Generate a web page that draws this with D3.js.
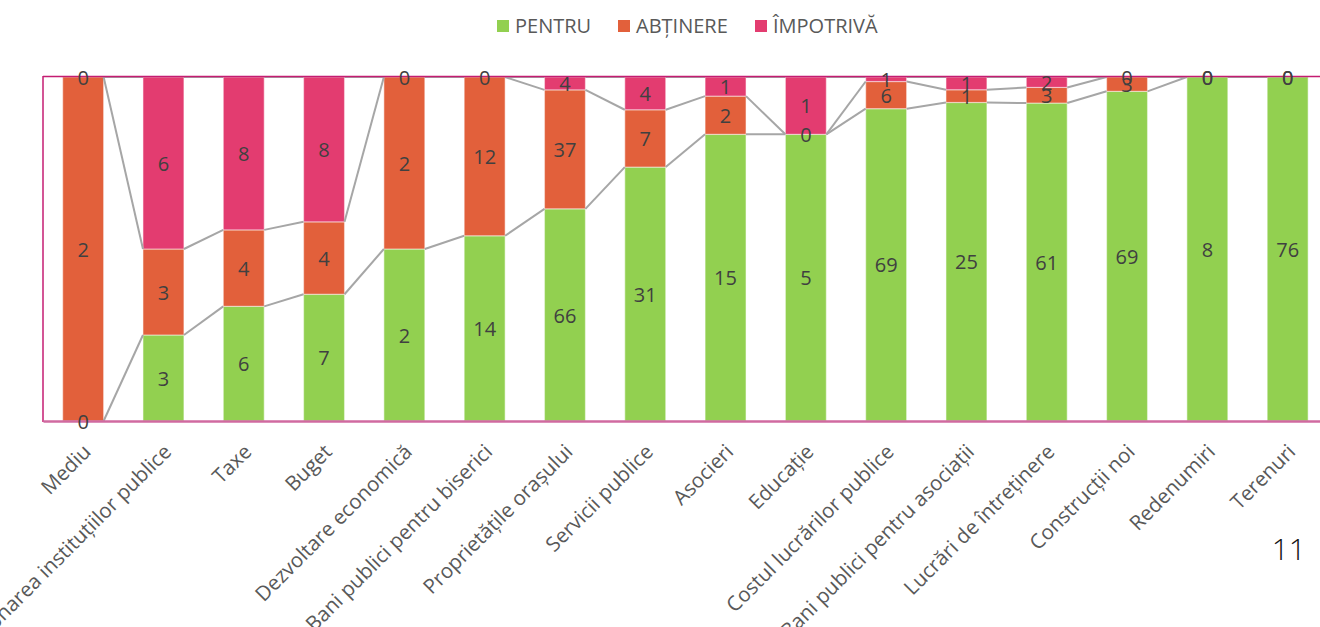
<!DOCTYPE html>
<html>
<head>
<meta charset="utf-8">
<script src="https://cdn.jsdelivr.net/npm/d3@7"></script>
<style>
  body { margin: 0; background: #fff; }
  text { font-family: "Open Sans", "Noto Sans", sans-serif; }
</style>
</head>
<body>
<div id="chart"></div>
<script>
// votes per topic, 100% stacked
const categories = ["Mediu", "Funcționarea instituțiilor publice", "Taxe", "Buget",
  "Dezvoltare economică", "Bani publici pentru biserici", "Proprietățile orașului",
  "Servicii publice", "Asocieri", "Educație", "Costul lucrărilor publice",
  "Bani publici pentru asociații", "Lucrări de întreținere", "Construcții noi",
  "Redenumiri", "Terenuri"];
const pentru    = [0, 3, 6, 7, 2, 14, 66, 31, 15, 5, 69, 25, 61, 69, 8, 76];
const abtinere  = [2, 3, 4, 4, 2, 12, 37, 7, 2, 0, 6, 1, 3, 3, 0, 0];
const impotriva = [0, 6, 8, 8, 0, 0, 4, 4, 1, 1, 1, 1, 2, 0, 0, 0];
const seriesNames = ["PENTRU", "ABȚINERE", "ÎMPOTRIVĂ"];
const colors = ["#92d050", "#e2603b", "#e33c70"];

const W = 1320, H = 627;
const plotLeft = 43, plotTop = 77, plotBottom = 421;

const svg = d3.select("#chart").append("svg")
  .attr("width", W).attr("height", H);

const data = categories.map((c, i) => ({cat: c, v: [pentru[i], abtinere[i], impotriva[i]]}));
data.forEach(d => {
  const tot = d3.sum(d.v);
  let acc = 0;
  d.seg = d.v.map(v => { const s = {y0: acc / tot, y1: (acc + v) / tot, v: v}; acc += v; return s; });
});

const x = d3.scaleBand().domain(categories)
  .range([plotLeft, plotLeft + 16 * 80.3])
  .paddingInner(0.49).paddingOuter(0.245);
const y = d3.scaleLinear().domain([0, 1]).range([plotBottom, plotTop]);
const bw = x.bandwidth();

// bars
data.forEach(d => {
  svg.selectAll(null).data(d.seg).enter().append("rect")
    .attr("x", x(d.cat))
    .attr("y", s => y(s.y1))
    .attr("width", bw)
    .attr("height", s => y(s.y0) - y(s.y1))
    .attr("fill", (s, k) => colors[k])
    .attr("stroke", "#ffffff")
    .attr("stroke-opacity", 0.45)
    .attr("stroke-width", 1.2);
});

// series lines between neighbouring bars
const levels = [0, 1, 2];
for (let i = 0; i < data.length - 1; i++) {
  levels.forEach(k => {
    svg.append("line")
      .attr("x1", x(data[i].cat) + bw).attr("y1", y(data[i].seg[k].y1))
      .attr("x2", x(data[i + 1].cat)).attr("y2", y(data[i + 1].seg[k].y1))
      .attr("stroke", "#a6a6a6").attr("stroke-width", 2);
  });
}

// plot border
svg.append("line").attr("x1", plotLeft).attr("x2", W).attr("y1", plotTop - 0.5).attr("y2", plotTop - 0.5)
  .attr("stroke", "#c41c72").attr("stroke-width", 1.5);
svg.append("line").attr("x1", plotLeft).attr("x2", plotLeft).attr("y1", plotTop - 1).attr("y2", plotBottom + 1)
  .attr("stroke", "#c41c72").attr("stroke-width", 1.5);

// x axis
const xAxis = svg.append("g")
  .attr("transform", `translate(0,${plotBottom})`)
  .call(d3.axisBottom(x).tickSize(0).tickPadding(0));
xAxis.select(".domain").attr("stroke", "#d06aa0").attr("stroke-width", 2.5);
xAxis.selectAll(".tick text")
  .attr("fill", "#595959")
  .style("font-size", "20.5px")
  .attr("text-anchor", "end")
  .attr("dy", "0.35em")
  .attr("transform", "translate(4,27) rotate(-45)");

// data labels
data.forEach(d => {
  svg.selectAll(null).data(d.seg).enter().append("text")
    .attr("x", x(d.cat) + bw / 2)
    .attr("y", s => y((s.y0 + s.y1) / 2))
    .attr("dy", "0.38em")
    .attr("text-anchor", "middle")
    .attr("fill", "#404040")
    .style("font-size", "20px")
    .text(s => s.v);
});

// legend
const legendX = [497, 618, 755];
seriesNames.forEach((n, k) => {
  svg.append("rect").attr("x", legendX[k]).attr("y", 20).attr("width", 12).attr("height", 12)
    .attr("fill", colors[k]);
  svg.append("text").attr("x", legendX[k] + 18).attr("y", 26).attr("dy", "0.35em")
    .attr("fill", "#595959").style("font-size", "20px").text(n);
});

// slide number
svg.append("text").attr("x", 1306).attr("y", 560).attr("text-anchor", "end")
  .attr("fill", "#111").style("font-size", "30px").style("font-weight", 300).text("11");
</script>
</body>
</html>
